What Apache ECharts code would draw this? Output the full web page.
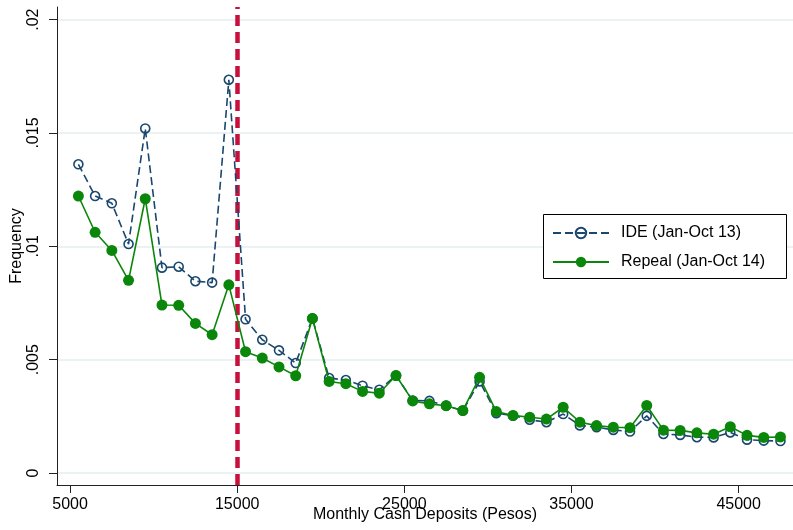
<!DOCTYPE html>
<html>
<head>
<meta charset="utf-8">
<script src="https://cdn.jsdelivr.net/npm/echarts@6/dist/echarts.min.js"></script>
<style>
  html, body { margin: 0; padding: 0; background: #fff; }
  #chart { width: 793px; height: 530px; }
</style>
</head>
<body>
<div id="chart"></div>
<script>
// Bin midpoints of monthly cash deposits (pesos)
const deposits = [5500, 6500, 7500, 8500, 9500, 10500, 11500, 12500, 13500, 14500,
  15500, 16500, 17500, 18500, 19500, 20500, 21500, 22500, 23500, 24500,
  25500, 26500, 27500, 28500, 29500, 30500, 31500, 32500, 33500, 34500,
  35500, 36500, 37500, 38500, 39500, 40500, 41500, 42500, 43500, 44500,
  45500, 46500, 47500];

// Frequency of deposits per bin, IDE period (Jan-Oct 2013)
const ideFreq = [0.01362, 0.01222, 0.01190, 0.01010, 0.01520, 0.00906, 0.00910, 0.00846, 0.00840, 0.01735,
  0.00678, 0.00588, 0.00541, 0.00485, 0.00682, 0.00419, 0.00410, 0.00385, 0.00367, 0.00430,
  0.00320, 0.00318, 0.00297, 0.00275, 0.00404, 0.00264, 0.00253, 0.00235, 0.00224, 0.00260,
  0.00210, 0.00202, 0.00190, 0.00183, 0.00252, 0.00172, 0.00168, 0.00158, 0.00157, 0.00179,
  0.00147, 0.00143, 0.00141];

// Frequency of deposits per bin, after repeal (Jan-Oct 2014)
const repealFreq = [0.01222, 0.01062, 0.00982, 0.00850, 0.01210, 0.00741, 0.00740, 0.00660, 0.00610, 0.00830,
  0.00535, 0.00507, 0.00468, 0.00429, 0.00682, 0.00404, 0.00394, 0.00360, 0.00352, 0.00430,
  0.00318, 0.00305, 0.00297, 0.00276, 0.00422, 0.00271, 0.00254, 0.00246, 0.00238, 0.00290,
  0.00224, 0.00209, 0.00202, 0.00200, 0.00298, 0.00189, 0.00188, 0.00177, 0.00171, 0.00204,
  0.00166, 0.00157, 0.00159];

// Tax exemption threshold
const threshold = 15000;

const xTicks = [5000, 15000, 25000, 35000, 45000];
const yTicks = [0, 0.005, 0.01, 0.015, 0.02];

const seriesNames = ['IDE (Jan-Oct 13)', 'Repeal (Jan-Oct 14)'];

const navy = '#1a476f';
const green = '#0a870a';
const crimson = '#c8103c';
const font = 'Liberation Sans, Arial, sans-serif';

const pairs = (ys) => deposits.map((x, i) => [x, ys[i]]);

const chart = echarts.init(document.getElementById('chart'), null, { renderer: 'canvas' });

chart.setOption({
  animation: false,
  backgroundColor: '#ffffff',
  textStyle: { fontFamily: font },
  grid: { left: 57, right: 0, top: 7, bottom: 45, containLabel: false, outerBoundsMode: 'none' },
  xAxis: {
    type: 'value',
    min: 4220,
    max: 48250,
    name: 'Monthly Cash Deposits (Pesos)',
    nameLocation: 'middle',
    nameGap: 22,
    nameMoveOverlap: false,
    nameTextStyle: { fontSize: 16, color: '#000', fontFamily: font },
    axisLine: { show: true, onZero: false, lineStyle: { color: '#222', width: 1 } },
    axisTick: { show: true, length: 8, inside: false, customValues: xTicks, lineStyle: { color: '#222', width: 1 } },
    axisLabel: { customValues: xTicks, margin: 12, fontSize: 16, color: '#000', fontFamily: font,
      formatter: (v) => String(v) },
    splitLine: { show: false }
  },
  yAxis: {
    type: 'value',
    min: -0.00053,
    max: 0.02056,
    name: 'Frequency',
    nameLocation: 'middle',
    nameGap: 32,
    nameMoveOverlap: false,
    nameTextStyle: { fontSize: 16, color: '#000', fontFamily: font },
    axisLine: { show: true, onZero: false, lineStyle: { color: '#222', width: 1 } },
    axisTick: { show: true, length: 8, inside: false, customValues: yTicks, lineStyle: { color: '#222', width: 1 } },
    axisLabel: { customValues: yTicks, rotate: 90, margin: 15, fontSize: 16, color: '#000', fontFamily: font,
      formatter: (v) => (v === 0 ? '0' : String(v).replace(/^0/, '')) },
    splitLine: { show: true, lineStyle: { color: '#e6eef0', width: 1.5 } }
  },
  legend: {
    orient: 'vertical',
    left: 552,
    top: 225,
    itemWidth: 56,
    itemHeight: 13,
    itemGap: 13,
    padding: 0,
    textStyle: { fontSize: 16, color: '#000', fontFamily: font, padding: [0, 0, 0, 7] },
    data: seriesNames
  },
  graphic: [{
    type: 'rect',
    z: 3,
    shape: { x: 543.5, y: 214.5, width: 243, height: 64 },
    style: { fill: '#fff', stroke: '#000', lineWidth: 1 }
  }],
  series: [
    {
      name: seriesNames[0],
      type: 'line',
      data: pairs(ideFreq),
      symbol: 'circle',
      symbolSize: 9,
      itemStyle: { color: 'rgba(255,255,255,0)', borderColor: navy, borderWidth: 1.6 },
      lineStyle: { color: navy, width: 1.6, type: [8, 4] },
      z: 2
    },
    {
      name: seriesNames[1],
      type: 'line',
      data: pairs(repealFreq),
      symbol: 'circle',
      symbolSize: 11,
      itemStyle: { color: green, borderWidth: 0 },
      lineStyle: { color: green, width: 1.6 },
      z: 3,
      markLine: {
        silent: true,
        symbol: ['none', 'none'],
        label: { show: false },
        lineStyle: { color: crimson, width: 4.5, type: [11, 6] },
        data: [{ xAxis: threshold }],
        z: 1
      }
    }
  ]
});
</script>
</body>
</html>
